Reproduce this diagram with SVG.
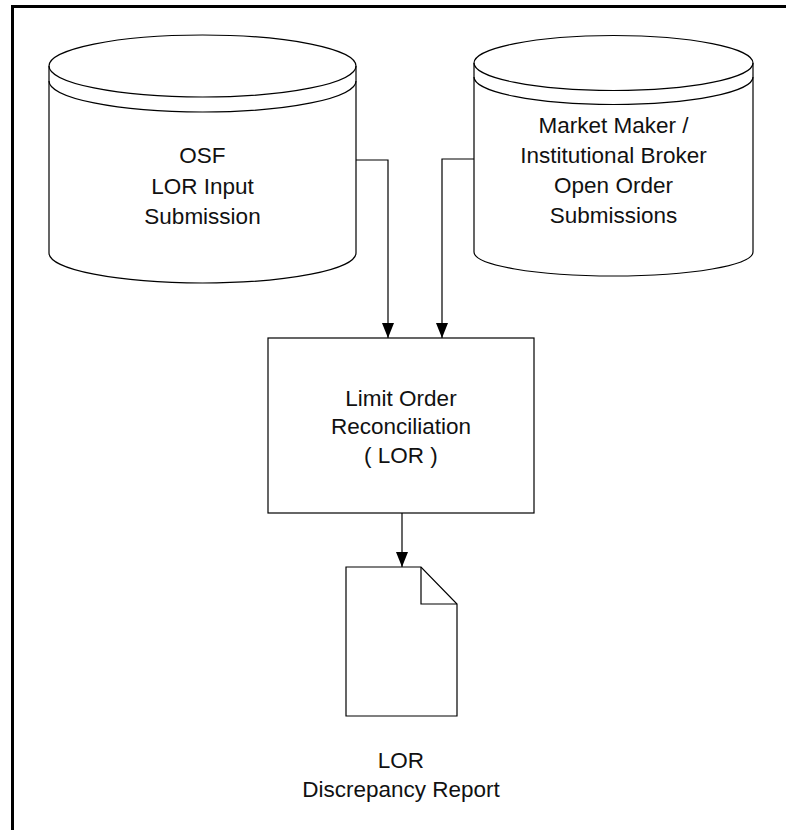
<svg xmlns="http://www.w3.org/2000/svg" width="786" height="830" viewBox="0 0 786 830">
<style>
.shape{fill:#fff;stroke:#000;stroke-width:1.2}
.line{fill:none;stroke:#000;stroke-width:1.2}
.lbl{font-family:"Liberation Sans",Arial,sans-serif;font-size:22.5px;fill:#111;text-anchor:middle}
</style>
<defs>
<marker id="arr" viewBox="0 0 15 12" refX="15" refY="6" markerWidth="15" markerHeight="12" markerUnits="userSpaceOnUse" orient="auto">
<path d="M0,0 L15,6 L0,12 Z" fill="#000"/>
</marker>
</defs>
<rect x="0" y="0" width="786" height="830" fill="#fff"/>
<path d="M12.5,840 L12.5,6.5 L800,6.5" fill="none" stroke="#000" stroke-width="3"/>
<g id="osf">
<path class="shape" d="M49,66 L49,253 A153.5,30 0 0 0 356,253 L356,66 A153.5,31 0 0 0 49,66 Z"/>
<path class="line" d="M49,66 A153.5,31 0 0 0 356,66"/>
<path class="line" d="M49,81 A153.5,31 0 0 0 356,81"/>
<text class="lbl" x="202.5" y="163">OSF</text>
<text class="lbl" x="202.5" y="193.5">LOR Input</text>
<text class="lbl" x="202.5" y="224">Submission</text>
</g>
<g id="mm">
<path class="shape" d="M474,63 L474,252 A139.5,24 0 0 0 753,252 L753,63 A139.5,27.5 0 0 0 474,63 Z"/>
<path class="line" d="M474,63 A139.5,27.5 0 0 0 753,63"/>
<path class="line" d="M474,77 A139.5,27.5 0 0 0 753,77"/>
<text class="lbl" x="613.5" y="133">Market Maker /</text>
<text class="lbl" x="613.5" y="163">Institutional Broker</text>
<text class="lbl" x="613.5" y="193">Open Order</text>
<text class="lbl" x="613.5" y="223">Submissions</text>
</g>
<g id="lor">
<rect class="shape" x="268" y="338" width="266" height="175"/>
<text class="lbl" x="401" y="406">Limit Order</text>
<text class="lbl" x="401" y="434">Reconciliation</text>
<text class="lbl" x="401" y="463">( LOR )</text>
</g>
<g id="report">
<path class="shape" d="M346,567 L421,567 L457,604 L457,716 L346,716 Z"/>
<path class="line" d="M421,567 L421,604 L457,604"/>
<text class="lbl" x="401" y="768">LOR</text>
<text class="lbl" x="401" y="797">Discrepancy Report</text>
</g>
<g id="connectors">
<path class="line" d="M356,160 L388,160 L388,338" marker-end="url(#arr)"/>
<path class="line" d="M474,159 L442,159 L442,338" marker-end="url(#arr)"/>
<path class="line" d="M402,513 L402,567" marker-end="url(#arr)"/>
</g>
</svg>
